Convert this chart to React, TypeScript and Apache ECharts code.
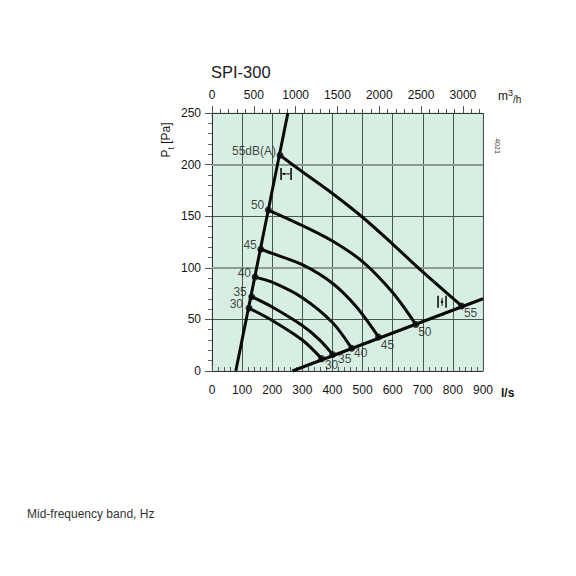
import React, { useEffect, useRef } from 'react';
import * as echarts from 'echarts';

// ---- data ----
const FLOW_MAX = 900; // l/s
const PRESSURE_MAX = 250; // Pa
const M3H_MAX = 3240; // 900 l/s expressed in m3/h
const M3H_LABELS = [0, 500, 1000, 1500, 2000, 2500, 3000];

const upperSystem = [[79, 0], [252, 250]];
const lowerSystem = [[267, 0], [900, 70]];

const upperPoints = [[226, 209], [187, 156], [162, 118], [143, 91], [132, 72], [123, 61]];
const lowerPoints = [[829, 63], [677, 45], [553, 33], [464, 22], [401, 16], [364, 12]];
const upperTexts = ['55dB(A)', '50', '45', '40', '35', '30'];
const lowerTexts = ['55', '50', '45', '40', '35', '30'];

const mid55 = [[300, 193], [400, 172], [500, 149], [600, 123], [700, 96]];
const mid50 = [[300, 141], [400, 126], [500, 106], [600, 76]];
const mid45 = [[200, 114], [300, 103], [400, 85], [480, 62]];
const mid40 = [[200, 86], [300, 71], [400, 47]];
const mid35 = [[200, 62], [300, 44], [358, 30]];
const mid30 = [[200, 49], [300, 30]];
const middles = [mid55, mid50, mid45, mid40, mid35, mid30];

const flowSymbols = [[246, 191, 0], [764, 67, 1]];

// ---- styles ----
const FONT = 'Liberation Sans, Arial, Helvetica, sans-serif';
const TXT = '#141414';
const DOT = 7;
const upperOffsets = [[-4, -4], [-4, -5], [-4, -4], [-4, -4], [-5, -5], [-6, -4]];
const lowerOffsets = [[9, 7], [9, 7], [9, 8], [9, 5], [12, 5], [10, 6]];

export default function App() {
  const ref = useRef<HTMLDivElement>(null);
  useEffect(() => {
    if (!ref.current) return;
    const chart = echarts.init(ref.current, null, { renderer: 'svg' });

    const minorTop: number[] = [];
    for (let v = 100; v < M3H_MAX; v += 100) if (v % 500 !== 0) minorTop.push(v);

    const curveSeries = middles.map((mid, i) => ({
      type: 'line',
      xAxisIndex: 0,
      yAxisIndex: 0,
      data: [upperPoints[i], ...mid, lowerPoints[i]],
      smooth: 0.3,
      showSymbol: false,
      lineStyle: { color: '#0a0a0a', width: 3 },
      z: 3,
      silent: true,
    }));

    const half = DOT / 2;
    const lbl = (text: string, off: number[], align: string) => ({
      show: true,
      formatter: text,
      position: [half + off[0], half + off[1]],
      align,
      verticalAlign: 'middle',
      color: TXT,
      fontSize: 12,
      fontFamily: FONT,
      textBorderWidth: 0,
    });

    const dotData = [
      ...upperPoints.map((p, i) => ({ value: p, label: lbl(upperTexts[i], upperOffsets[i], 'right') })),
      ...lowerPoints.map((p, i) => ({ value: p, label: lbl(lowerTexts[i], lowerOffsets[i], 'center') })),
    ];

    const option: any = {
      animation: false,
      grid: {
        left: 212,
        top: 113,
        right: 93,
        bottom: 205,
        show: true,
        backgroundColor: '#d7eee2',
        borderColor: '#c9d6cf',
        borderWidth: 1,
      },
      xAxis: [
        {
          type: 'value',
          position: 'bottom',
          min: 0,
          max: FLOW_MAX,
          interval: 100,
          axisLine: { show: true, lineStyle: { color: '#333', width: 1 } },
          axisTick: { show: true, inside: true, length: 5, lineStyle: { color: '#555' } },
          minorTick: { show: true, splitNumber: 5, length: 4, lineStyle: { color: '#555' } },
          axisLabel: { color: TXT, fontSize: 12, fontFamily: FONT, margin: 13 },
          splitLine: { show: true, lineStyle: { color: '#46564c', width: 1 } },
        },
        {
          type: 'value',
          position: 'top',
          min: 0,
          max: M3H_MAX,
          axisLine: { show: true, lineStyle: { color: '#333', width: 1 } },
          axisTick: {
            show: true,
            inside: false,
            length: 7,
            customValues: M3H_LABELS,
            lineStyle: { color: '#555' },
          },
          axisLabel: {
            color: TXT,
            fontSize: 12,
            fontFamily: FONT,
            margin: 12,
            customValues: M3H_LABELS,
            formatter: (v: number) => String(v),
          },
          splitLine: { show: false },
        },
        {
          type: 'value',
          position: 'top',
          min: 0,
          max: M3H_MAX,
          axisLine: { show: false },
          axisTick: {
            show: true,
            inside: false,
            length: 4,
            customValues: minorTop,
            lineStyle: { color: '#555' },
          },
          axisLabel: { show: false },
          splitLine: { show: false },
        },
      ],
      yAxis: {
        type: 'value',
        min: 0,
        max: PRESSURE_MAX,
        interval: 50,
        axisLine: { show: true, lineStyle: { color: '#333', width: 1 } },
        axisTick: { show: true, inside: false, length: 7, lineStyle: { color: '#555' } },
        minorTick: { show: true, splitNumber: 5, length: 4, lineStyle: { color: '#666' } },
        axisLabel: { color: TXT, fontSize: 12, fontFamily: FONT, margin: 11 },
        splitLine: { show: true, lineStyle: { color: '#46564c', width: 1 } },
      },
      series: [
        {
          type: 'line',
          data: upperSystem,
          showSymbol: false,
          lineStyle: { color: '#0a0a0a', width: 3 },
          z: 3,
          silent: true,
          markLine: {
            silent: true,
            symbol: 'none',
            label: { show: false },
            lineStyle: { color: '#8d9b93', width: 2, type: 'solid' },
            data: [{ yAxis: 100 }, { yAxis: 200 }],
            z: 1,
          },
        },
        {
          type: 'line',
          data: lowerSystem,
          showSymbol: false,
          lineStyle: { color: '#0a0a0a', width: 3 },
          z: 3,
          silent: true,
        },
        ...curveSeries,
        {
          type: 'scatter',
          data: dotData,
          symbol: 'circle',
          symbolSize: DOT,
          itemStyle: { color: '#0a0a0a' },
          z: 5,
          silent: true,
        },
        {
          type: 'custom',
          data: flowSymbols,
          z: 4,
          silent: true,
          renderItem: (params: any, api: any) => {
            const p = api.coord([api.value(0), api.value(1)]);
            const kind = api.value(2);
            const s = { stroke: '#111', lineWidth: 1.6 };
            const thin = { stroke: '#111', lineWidth: 1 };
            if (kind === 0) {
              return {
                type: 'group',
                children: [
                  { type: 'line', shape: { x1: p[0] - 5, y1: p[1] - 6, x2: p[0] - 5, y2: p[1] + 6 }, style: s },
                  { type: 'line', shape: { x1: p[0] + 5, y1: p[1] - 6, x2: p[0] + 5, y2: p[1] + 6 }, style: s },
                  { type: 'line', shape: { x1: p[0] - 4, y1: p[1], x2: p[0] + 4, y2: p[1] }, style: thin },
                  { type: 'circle', shape: { cx: p[0] - 2, cy: p[1], r: 1.2 }, style: { fill: '#111' } },
                ],
              };
            }
            return {
              type: 'group',
              children: [
                { type: 'line', shape: { x1: p[0] - 4, y1: p[1] - 6, x2: p[0] - 4, y2: p[1] + 6 }, style: s },
                { type: 'line', shape: { x1: p[0] + 4, y1: p[1] - 6, x2: p[0] + 4, y2: p[1] + 6 }, style: s },
                { type: 'line', shape: { x1: p[0], y1: p[1] - 4, x2: p[0], y2: p[1] + 4 }, style: thin },
                { type: 'circle', shape: { cx: p[0], cy: p[1], r: 1.3 }, style: { fill: '#111' } },
              ],
            };
          },
        },
      ],
      graphic: [
        {
          type: 'text',
          left: 211,
          top: 63,
          style: { text: 'SPI-300', fontSize: 16.5, fontFamily: FONT, fill: '#1a1a1a' },
        },
        {
          type: 'text',
          x: 498,
          y: 96,
          style: {
            text: '{m|m}{sup|3}{h|/h}',
            verticalAlign: 'middle',
            rich: {
              m: { fontSize: 12, fontFamily: FONT, fill: TXT, lineHeight: 16 },
              sup: { fontSize: 9, fontFamily: FONT, fill: TXT, verticalAlign: 'top' },
              h: { fontSize: 10, fontFamily: FONT, fill: TXT, verticalAlign: 'bottom' },
            },
          },
        },
        {
          type: 'text',
          x: 501,
          y: 393,
          style: {
            text: 'l/s',
            fontSize: 12,
            fontWeight: 'bold',
            fontFamily: FONT,
            fill: TXT,
            verticalAlign: 'middle',
          },
        },
        {
          type: 'text',
          x: 166,
          y: 140,
          rotation: Math.PI / 2,
          style: {
            text: '{p|P}{s|t}{p| [Pa]}',
            align: 'center',
            verticalAlign: 'middle',
            rich: {
              p: { fontSize: 12, fontFamily: FONT, fill: TXT, lineHeight: 18 },
              s: { fontSize: 9, fontFamily: FONT, fill: TXT, verticalAlign: 'bottom' },
            },
          },
        },
        {
          type: 'text',
          x: 497,
          y: 146,
          rotation: -Math.PI / 2,
          style: {
            text: '4021',
            fontSize: 7,
            fontFamily: FONT,
            fill: '#444',
            align: 'center',
            verticalAlign: 'middle',
          },
        },
        {
          type: 'text',
          x: 27,
          y: 514,
          style: {
            text: 'Mid-frequency band, Hz',
            fontSize: 12,
            fontFamily: FONT,
            fill: '#333',
            verticalAlign: 'middle',
          },
        },
      ],
    };

    chart.setOption(option);
    return () => chart.dispose();
  }, []);

  return (
    <div
      ref={ref}
      style={{ position: 'absolute', left: 0, top: 0, width: 576, height: 576, background: '#fff' }}
    />
  );
}
